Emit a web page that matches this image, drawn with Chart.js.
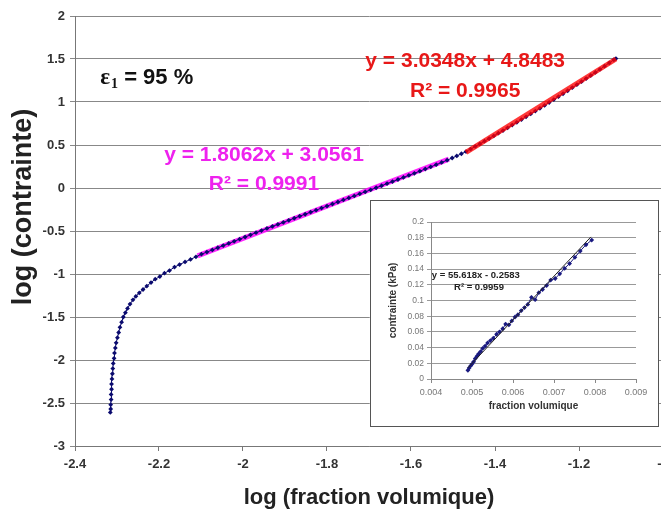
<!DOCTYPE html>
<html>
<head>
<meta charset="utf-8">
<script src="https://cdn.jsdelivr.net/npm/chart.js@4.4.1/dist/chart.umd.min.js"></script>
<style>
  html, body { margin: 0; padding: 0; background: #fff; overflow: hidden; }
  #wrap { position: relative; width: 661px; height: 512px; overflow: hidden; }
  #mainChart { position: absolute; left: 0; top: 0; }
  #inset { position: absolute; left: 370px; top: 200px; width: 289px; height: 227px;
           border: 1px solid #555; background: #fff; box-sizing: border-box; }
  #insetChart { position: absolute; left: 0; top: 0; }
</style>
</head>
<body>
<div id="wrap">
  <canvas id="mainChart" width="680" height="512"></canvas>
  <div id="inset"><canvas id="insetChart" width="287" height="225"></canvas></div>
</div>
<script>
// main curve: log(volume fraction) vs log(stress)
const logFraction = [
  -2.316, -2.315, -2.315, -2.314, -2.314, -2.313, -2.313, -2.312, -2.311, -2.310,
  -2.309, -2.307, -2.306, -2.304, -2.302, -2.299, -2.296, -2.293, -2.289, -2.285,
  -2.280, -2.275, -2.269, -2.262, -2.255, -2.247, -2.238, -2.229, -2.219, -2.209,
  -2.198, -2.187, -2.175, -2.163, -2.151, -2.138, -2.125, -2.112, -2.099, -2.086,
  -2.073, -2.060, -2.047, -2.034, -2.021, -2.008, -1.995, -1.982, -1.969, -1.956,
  -1.943, -1.930, -1.917, -1.904, -1.891, -1.878, -1.865, -1.852, -1.839, -1.826,
  -1.813, -1.800, -1.787, -1.774, -1.761, -1.748, -1.735, -1.722, -1.709, -1.696,
  -1.683, -1.670, -1.657, -1.644, -1.631, -1.618, -1.605, -1.592, -1.579, -1.566,
  -1.553, -1.540, -1.527, -1.514, -1.502, -1.491, -1.480, -1.469, -1.458, -1.447,
  -1.436, -1.425, -1.414, -1.403, -1.392, -1.381, -1.370, -1.359, -1.348, -1.337,
  -1.326, -1.315, -1.304, -1.293, -1.282, -1.271, -1.260, -1.249, -1.238, -1.227,
  -1.216, -1.205, -1.194, -1.183, -1.172, -1.161, -1.150, -1.139, -1.128, -1.117,
  -1.112
];
const logStress = [
  -2.61, -2.57, -2.52, -2.46, -2.40, -2.34, -2.28, -2.22, -2.16, -2.10,
  -2.04, -1.98, -1.92, -1.86, -1.80, -1.74, -1.68, -1.62, -1.56, -1.50,
  -1.45, -1.40, -1.35, -1.30, -1.26, -1.22, -1.18, -1.14, -1.10, -1.06,
  -1.03, -0.99, -0.96, -0.92, -0.89, -0.86, -0.83, -0.80, -0.77, -0.745,
  -0.72, -0.695, -0.67, -0.645, -0.62, -0.595, -0.57, -0.545, -0.52, -0.495,
  -0.47, -0.447, -0.423, -0.40, -0.376, -0.352, -0.328, -0.305, -0.281, -0.258,
  -0.234, -0.21, -0.186, -0.163, -0.139, -0.115, -0.092, -0.068, -0.045, -0.021,
  0.003, 0.027, 0.051, 0.075, 0.099, 0.123, 0.147, 0.171, 0.196, 0.221,
  0.246, 0.271, 0.297, 0.323, 0.349, 0.373, 0.398, 0.423, 0.453, 0.483,
  0.513, 0.544, 0.575, 0.606, 0.637, 0.668, 0.700, 0.732, 0.764, 0.796,
  0.828, 0.861, 0.894, 0.927, 0.960, 0.994, 1.028, 1.062, 1.096, 1.131,
  1.166, 1.201, 1.236, 1.272, 1.308, 1.344, 1.380, 1.417, 1.454, 1.491,
  1.505
];
// trendline end points
const pinkTrendX = [-2.108, -1.510];
const pinkTrendY = [-0.79, 0.335];
const redTrendX = [-1.469, -1.112];
const redTrendY = [0.415, 1.50];

const xTicks = [-2.4, -2.2, -2, -1.8, -1.6, -1.4, -1.2, -1];
const yTicks = [2, 1.5, 1, 0.5, 0, -0.5, -1, -1.5, -2, -2.5, -3];

// inset: volume fraction vs stress (kPa)
const fraction = [
  0.00490, 0.00493, 0.00497, 0.00500, 0.00504, 0.00508, 0.00512, 0.00516, 0.00521, 0.00526,
  0.00532, 0.00538, 0.00545, 0.00552, 0.00560, 0.00567, 0.00575, 0.00582, 0.00590, 0.00597,
  0.00605, 0.00612, 0.00620, 0.00628, 0.00636, 0.00645, 0.00654, 0.00663, 0.00672, 0.00682,
  0.00692, 0.00703, 0.00714, 0.00726, 0.00738, 0.00751, 0.00764, 0.00778, 0.00792
];
const stressKPa = [
  0.011, 0.014, 0.017, 0.019, 0.022, 0.026, 0.029, 0.032, 0.035, 0.039,
  0.042, 0.046, 0.049, 0.052, 0.057, 0.060, 0.064, 0.070, 0.069, 0.074,
  0.079, 0.082, 0.087, 0.091, 0.095, 0.104, 0.101, 0.110, 0.114, 0.119,
  0.126, 0.128, 0.134, 0.141, 0.147, 0.155, 0.163, 0.171, 0.177
];
const insetTrendX = [0.0049, 0.0079];
const insetTrendY = [0.0142, 0.181];

const FONT = "'Liberation Sans', Arial, sans-serif";

function pts(xs, ys) {
  return xs.map((x, i) => ({ x: x, y: ys[i] }));
}

// labels drawn in data coordinates
const mainLabels = {
  id: 'mainLabels',
  afterDraw(chart) {
    const ctx = chart.ctx;
    const xs = chart.scales.x, ys = chart.scales.y;
    ctx.save();
    ctx.textBaseline = 'middle';
    ctx.textAlign = 'center';
    ctx.font = 'bold 21px ' + FONT;
    ctx.fillStyle = '#ee22ee';
    ctx.fillText('y = 1.8062x + 3.0561', xs.getPixelForValue(-1.95), ys.getPixelForValue(0.38));
    ctx.fillText('R² = 0.9991', xs.getPixelForValue(-1.95), ys.getPixelForValue(0.045));
    ctx.fillStyle = '#e81818';
    ctx.fillText('y = 3.0348x + 4.8483', xs.getPixelForValue(-1.471), ys.getPixelForValue(1.47));
    ctx.fillText('R² = 0.9965', xs.getPixelForValue(-1.471), ys.getPixelForValue(1.12));

    // epsilon label
    let px = xs.getPixelForValue(-2.34);
    const py = ys.getPixelForValue(1.28);
    ctx.textAlign = 'left';
    ctx.fillStyle = '#111';
    ctx.font = 'bold 23px "Liberation Serif", serif';
    ctx.fillText('ε', px, py);
    px += ctx.measureText('ε').width + 1;
    ctx.font = 'bold 14px "Liberation Serif", serif';
    ctx.fillText('1', px, py + 6);
    px += ctx.measureText('1').width;
    ctx.font = 'bold 22px ' + FONT;
    ctx.fillText(' = 95 %', px, py);

    // y axis title
    ctx.save();
    ctx.translate(24, 207);
    ctx.rotate(-Math.PI / 2);
    ctx.textAlign = 'center';
    ctx.fillStyle = '#222';
    ctx.font = 'bold 27px ' + FONT;
    ctx.fillText('log (contrainte)', 0, 0);
    ctx.restore();
    ctx.restore();
  }
};

new Chart(document.getElementById('mainChart'), {
  type: 'scatter',
  data: {
    datasets: [{
      data: pts(logFraction, logStress),
      showLine: true,
      borderColor: '#0a0a6e',
      backgroundColor: '#0a0a6e',
      borderWidth: 1,
      pointStyle: 'rectRot',
      pointRadius: 2.4,
      pointBorderWidth: 0,
      order: 0
    }, {
      data: pts(pinkTrendX, pinkTrendY),
      showLine: true,
      borderColor: 'rgba(255,0,255,0.85)',
      borderWidth: 5,
      pointRadius: 0,
      order: 1
    }, {
      data: pts(redTrendX, redTrendY),
      showLine: true,
      borderColor: 'rgba(255,0,0,0.78)',
      borderWidth: 5,
      pointRadius: 0,
      order: -1
    }]
  },
  options: {
    responsive: false,
    animation: false,
    layout: { padding: { left: 0, right: 17, top: 16, bottom: 0 } },
    plugins: { legend: { display: false }, tooltip: { enabled: false } },
    scales: {
      x: {
        type: 'linear',
        min: -2.4,
        max: -1,
        afterBuildTicks: axis => { axis.ticks = xTicks.map(v => ({ value: v })); },
        afterFit: axis => { axis.height = 66; },
        grid: { drawOnChartArea: false, color: '#777', tickLength: 5 },
        border: { color: '#777', width: 1 },
        ticks: {
          color: '#333',
          font: { family: FONT, size: 13, weight: 'bold' },
          padding: 6,
          maxRotation: 0,
          callback: v => String(parseFloat(v.toFixed(1)))
        },
        title: {
          display: true,
          text: 'log (fraction volumique)',
          color: '#222',
          font: { family: FONT, size: 22, weight: 'bold' },
          padding: { top: 0, bottom: 1 }
        }
      },
      y: {
        min: -3,
        max: 2,
        afterBuildTicks: axis => { axis.ticks = yTicks.map(v => ({ value: v })); },
        afterFit: axis => { axis.width = 75; },
        grid: { color: '#888', tickLength: 5 },
        border: { color: '#777', width: 1 },
        ticks: {
          color: '#333',
          font: { family: FONT, size: 13, weight: 'bold' },
          padding: 5,
          callback: v => String(parseFloat(v.toFixed(1)))
        }
      }
    }
  },
  plugins: [mainLabels]
});

const insetLabels = {
  id: 'insetLabels',
  afterDraw(chart) {
    const ctx = chart.ctx;
    const xs = chart.scales.x, ys = chart.scales.y;
    ctx.save();
    ctx.fillStyle = '#222';
    ctx.font = 'bold 9.5px ' + FONT;
    ctx.textBaseline = 'middle';
    ctx.textAlign = 'left';
    ctx.fillText('y = 55.618x - 0.2583', xs.getPixelForValue(0.00402), ys.getPixelForValue(0.1315));
    ctx.textAlign = 'center';
    ctx.fillText('R² = 0.9959', xs.getPixelForValue(0.00517), ys.getPixelForValue(0.117));
    ctx.restore();
  }
};

new Chart(document.getElementById('insetChart'), {
  type: 'scatter',
  data: {
    datasets: [{
      data: pts(fraction, stressKPa),
      showLine: true,
      borderColor: '#1a1a80',
      backgroundColor: '#1a1a80',
      borderWidth: 1,
      pointStyle: 'rectRot',
      pointRadius: 2.4,
      pointBorderWidth: 0,
      order: 1
    }, {
      data: pts(insetTrendX, insetTrendY),
      showLine: true,
      borderColor: '#222',
      borderWidth: 1,
      pointRadius: 0,
      order: 0
    }]
  },
  options: {
    responsive: false,
    animation: false,
    layout: { padding: { left: 0, right: 22, top: 21, bottom: 0 } },
    plugins: { legend: { display: false }, tooltip: { enabled: false } },
    scales: {
      x: {
        type: 'linear',
        min: 0.004,
        max: 0.009,
        afterFit: axis => { axis.height = 47; },
        grid: { drawOnChartArea: false, color: '#888', tickLength: 4 },
        border: { color: '#888' },
        ticks: {
          stepSize: 0.001,
          color: '#777',
          font: { family: FONT, size: 9 },
          padding: 4,
          maxRotation: 0,
          callback: v => v.toFixed(3)
        },
        title: {
          display: true,
          text: 'fraction volumique',
          color: '#333',
          font: { family: FONT, size: 10, weight: 'bold' },
          padding: { top: 0, bottom: 14 }
        }
      },
      y: {
        min: 0,
        max: 0.2,
        afterFit: axis => { axis.width = 60; },
        grid: { color: '#999', tickLength: 4 },
        border: { color: '#888' },
        ticks: {
          stepSize: 0.02,
          color: '#777',
          font: { family: FONT, size: 8.5 },
          padding: 3,
          callback: v => String(parseFloat(v.toFixed(2)))
        },
        title: {
          display: true,
          text: 'contrainte (kPa)',
          color: '#333',
          font: { family: FONT, size: 10, weight: 'bold' },
          padding: { top: 16, bottom: 0 }
        }
      }
    }
  },
  plugins: [insetLabels]
});
</script>
</body>
</html>
